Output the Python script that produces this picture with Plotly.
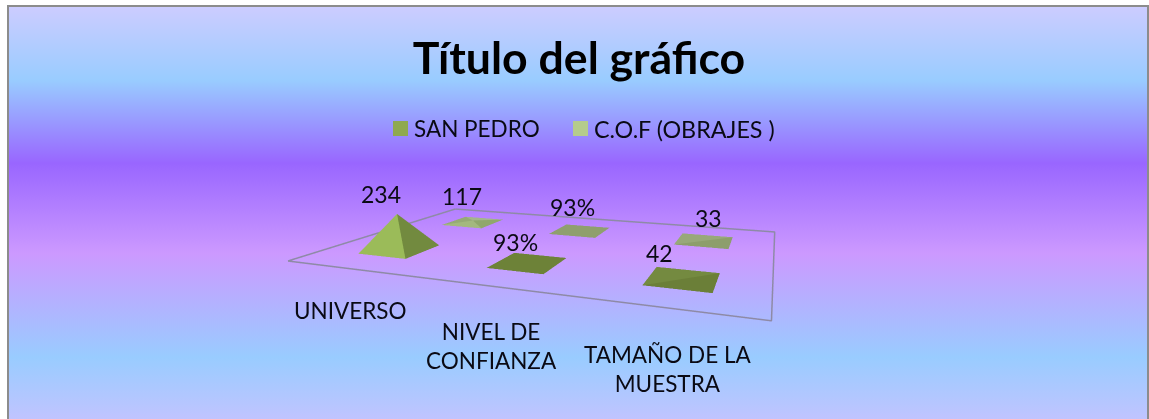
import plotly.graph_objects as go

CATEGORIES = ["UNIVERSO", "NIVEL DE<br>CONFIANZA", "TAMAÑO DE LA<br>MUESTRA"]
SERIES = ["SAN PEDRO", "C.O.F (OBRAJES )"]
SAN_PEDRO = [234, 0.93, 42]
COF = [117, 0.93, 33]
SAN_PEDRO_TEXT = ["234", "93%", "42"]
COF_TEXT = ["117", "93%", "33"]

SAN_PEDRO_LEGEND = "#8FA94F"
COF_LEGEND = "#B5CB8C"
# faces: front(-y), right(+x), back(+y), left(-x)
SAN_PEDRO_FACES = [["#9BBB59", "#728A3F", "#728A3F", "#9BBB59"],
                   ["#6D8238"] * 4,
                   ["#6B7F38", "#6B7F38", "#748A40", "#748A40"]]
COF_FACES = [["#A3B87E", "#90A76C", "#A4B58C", "#96AA75"],
             ["#8F9F6E"] * 4,
             ["#8D9E6C", "#8D9E6C", "#98A87A", "#98A87A"]]

GRADIENT_OFFSETS = [0, 0.178, 0.379, 0.597, 0.85, 1]
GRADIENT_COLORS = ["#CCCCFF", "#99CCFF", "#9966FF", "#CC99FF", "#99CCFF", "#C0C4FF"]

BAR_FRACTION = 0.39
SCALE_POWER = 4  # the chart's value axis compresses small values

stops = "".join(f"<stop offset='{o}' stop-color='{c.replace('#', '%23')}'/>"
                for o, c in zip(GRADIENT_OFFSETS, GRADIENT_COLORS))
bg = ("data:image/svg+xml;utf8,<svg xmlns='http://www.w3.org/2000/svg' width='1139' height='412' "
      "preserveAspectRatio='none'><defs><linearGradient id='g' x1='0' y1='0' x2='0' y2='1'>"
      + stops + "</linearGradient></defs><rect width='1139' height='412' fill='url(%23g)'/></svg>")

vmax = max(SAN_PEDRO + COF)


def pyramids(values, row, faces, name):
    xs, ys, zs, i, j, k, colors = [], [], [], [], [], [], []
    half_x = BAR_FRACTION / 2
    half_y = BAR_FRACTION / 2
    for c, v in enumerate(values):
        cx, cy = c + 0.5, row + 0.5
        top = (v / vmax) ** SCALE_POWER
        n = len(xs)
        xs += [cx - half_x, cx + half_x, cx + half_x, cx - half_x, cx]
        ys += [cy - half_y, cy - half_y, cy + half_y, cy + half_y, cy]
        zs += [0, 0, 0, 0, top]
        for f in range(4):
            i.append(n + f)
            j.append(n + (f + 1) % 4)
            k.append(n + 4)
            colors.append(faces[c][f])
    return go.Mesh3d(x=xs, y=ys, z=zs, i=i, j=j, k=k, facecolor=colors,
                     flatshading=True, name=name, showlegend=False, hoverinfo="skip",
                     lighting=dict(ambient=1, diffuse=0, specular=0, roughness=1, fresnel=0))


fig = go.Figure()
fig.add_trace(pyramids(SAN_PEDRO, 0, SAN_PEDRO_FACES, SERIES[0]))
fig.add_trace(pyramids(COF, 1, COF_FACES, SERIES[1]))
fig.add_trace(go.Scatter3d(x=[0, 3, 3, 0, 0], y=[0, 0, 2, 2, 0], z=[0, 0, 0, 0, 0], mode="lines",
                           line=dict(color="#8E8AA6", width=3), showlegend=False, hoverinfo="skip"))
# legend entries (keys are the squares drawn below)
for name, lg in zip(SERIES, ["legend", "legend2"]):
    fig.add_trace(go.Scatter(x=[None], y=[None], mode="markers", name=name, hoverinfo="skip", legend=lg,
                             showlegend=True,
                             marker=dict(symbol="square", size=14, color="rgba(0,0,0,0)")))

FONT = "Lato"
TEXT = "#0A0A14"
value_shift = {(0, 0): (-19, 55), (0, 1): (-12, 21), (0, 2): (-23, 26),
               (1, 0): (-11, 26), (1, 1): (-7, 24), (1, 2): (4, 23)}
cat_shift = [(2, -42), (1, -60), (1, -61)]
annots = []
for row, texts in enumerate([SAN_PEDRO_TEXT, COF_TEXT]):
    for c, t in enumerate(texts):
        sx, sy = value_shift[(row, c)]
        annots.append(dict(x=c + 0.5, y=row + 0.5, z=0, text=t, showarrow=False, xshift=sx, yshift=sy,
                           font=dict(family=FONT, size=23, color=TEXT)))
for c, t in enumerate(CATEGORIES):
    sx, sy = cat_shift[c]
    annots.append(dict(x=c + 0.5, y=0, z=0, text=t, showarrow=False, xshift=sx, yshift=sy,
                       font=dict(family=FONT, size=22.5, color=TEXT)))

hidden = dict(visible=False, showgrid=False, zeroline=False, showbackground=False, showticklabels=False, title="")
W, H = 1149, 419
key_shapes = [dict(type="rect", xref="paper", yref="paper", x0=x0 / W, x1=(x0 + 15) / W, y0=1 - 136 / H, y1=1 - 121 / H,
                   fillcolor=col, line=dict(width=0), layer="above")
              for x0, col in zip([393, 573], [SAN_PEDRO_LEGEND, COF_LEGEND])]
legend_style = dict(orientation="h", y=1 - 129 / H, xanchor="left", yanchor="middle", bgcolor="rgba(0,0,0,0)")
fig.update_layout(
    width=W, height=H, margin=dict(l=0, r=0, t=0, b=0), paper_bgcolor="white", autosize=False,
    plot_bgcolor="rgba(0,0,0,0)",
    xaxis=dict(visible=False), yaxis=dict(visible=False),
    title=dict(text="<b>Título del gráfico</b>", x=579 / W, xanchor="center", y=1 - 58 / H, yanchor="middle",
               font=dict(family=FONT, size=44.6, color="#000000")),
    legend=dict(x=374 / W, font=dict(family=FONT, size=22.5, color=TEXT), **legend_style),
    legend2=dict(x=554 / W, font=dict(family=FONT, size=23.3, color=TEXT), **legend_style),
    images=[dict(source=bg, xref="paper", yref="paper", x=8 / W, y=1 - 7 / H, sizex=1139 / W, sizey=412 / H,
                 sizing="stretch", layer="below", xanchor="left", yanchor="top")],
    shapes=[dict(type="rect", xref="paper", yref="paper", x0=8 / W, x1=1148 / W, y0=-0.01, y1=1 - 6 / H,
                 line=dict(color="#8C8C8C", width=2), fillcolor="rgba(0,0,0,0)")] + key_shapes,
    scene=dict(
        domain=dict(x=[67 / W, 1], y=[0, 1]),
        bgcolor="rgba(0,0,0,0)",
        xaxis=dict(range=[0, 3], **hidden), yaxis=dict(range=[0, 2], **hidden), zaxis=dict(range=[0, 1], **hidden),
        aspectmode="manual", aspectratio=dict(x=1, y=0.609, z=0.085),
        camera=dict(eye=dict(x=0.491, y=-1.086, z=0.282), center=dict(x=0.182, y=-0.155, z=0.086),
                    up=dict(x=0, y=0, z=1), projection=dict(type="perspective")),
        annotations=annots,
    ),
)
fig.write_html("out.html", config={"displayModeBar": False}, post_script="document.body.style.margin='0';")
